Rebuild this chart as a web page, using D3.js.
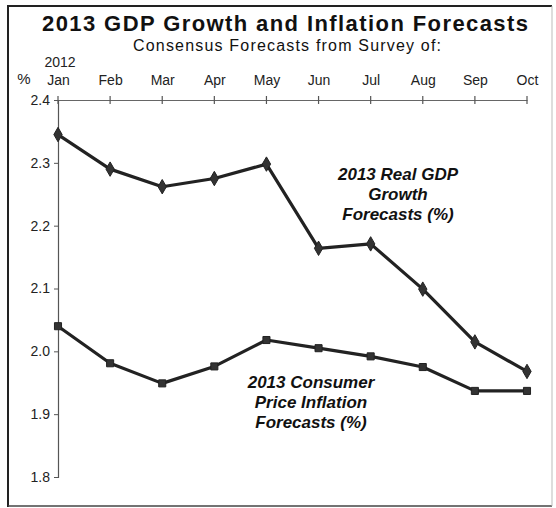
<!DOCTYPE html>
<html>
<head>
<meta charset="utf-8">
<script src="https://cdn.jsdelivr.net/npm/d3@7"></script>
<style>
  body { margin: 0; background: #fff; }
  svg { display: block; font-family: "Liberation Sans", Arial, sans-serif; }
</style>
</head>
<body>
<svg id="chart" width="556" height="508"></svg>
<script>
const months = ['Jan', 'Feb', 'Mar', 'Apr', 'May', 'Jun', 'Jul', 'Aug', 'Sep', 'Oct'];
const gdpForecast = [2.345, 2.29, 2.262, 2.275, 2.298, 2.164, 2.171, 2.099, 2.015, 1.968];
const cpiForecast = [2.04, 1.981, 1.949, 1.976, 2.018, 2.005, 1.992, 1.975, 1.937, 1.937];
const yTicks = [1.8, 1.9, 2.0, 2.1, 2.2, 2.3, 2.4];

const svg = d3.select('#chart');
const ink = '#222';
const font = '"Liberation Sans", Arial, sans-serif';

// frame
svg.append('path')
  .attr('d', 'M8 507 L8 6 L552 6')
  .attr('fill', 'none').attr('stroke', ink).attr('stroke-width', 2);
svg.append('line')
  .attr('x1', 8).attr('x2', 552).attr('y1', 506).attr('y2', 506)
  .attr('stroke', '#444').attr('stroke-width', 1.5);
svg.append('line')
  .attr('x1', 552).attr('x2', 552).attr('y1', 6).attr('y2', 506)
  .attr('stroke', '#bbb').attr('stroke-width', 1);

// titles
svg.append('text')
  .attr('x', 285).attr('y', 31)
  .attr('text-anchor', 'middle')
  .attr('font-size', 22).attr('font-weight', 'bold').attr('fill', '#111')
  .attr('textLength', 486).attr('lengthAdjust', 'spacing')
  .text('2013 GDP Growth and Inflation Forecasts');
svg.append('text')
  .attr('x', 287).attr('y', 51)
  .attr('text-anchor', 'middle')
  .attr('font-size', 16).attr('fill', '#111')
  .attr('textLength', 308).attr('lengthAdjust', 'spacing')
  .text('Consensus Forecasts from Survey of:');

const x = d3.scalePoint().domain(months).range([58, 527]);
const y = d3.scaleLinear().domain([1.8, 2.4]).range([477, 100]);

// top month axis
const monthAxis = svg.append('g').attr('transform', `translate(0,${y(2.4)})`);
monthAxis.call(d3.axisTop(x).tickSize(0).tickPadding(15))
  .call(g => g.select('.domain').attr('stroke', '#666').attr('stroke-width', 1.2))
  .call(g => g.selectAll('text').attr('font-size', 14).attr('fill', ink)
    .attr('font-family', font));
monthAxis.selectAll('.mtick').data(months).join('line')
  .attr('class', 'mtick')
  .attr('x1', d => x(d)).attr('x2', d => x(d))
  .attr('y1', -4).attr('y2', 4)
  .attr('stroke', '#555').attr('stroke-width', 1.2);

svg.append('text')
  .attr('x', x('Jan') + 2).attr('y', 67)
  .attr('text-anchor', 'middle')
  .attr('font-size', 14).attr('fill', ink)
  .text('2012');
svg.append('text')
  .attr('x', 24).attr('y', 84)
  .attr('text-anchor', 'middle')
  .attr('font-size', 15).attr('fill', ink)
  .text('%');

// left value axis
svg.append('g').attr('transform', `translate(${x('Jan')},0)`)
  .call(d3.axisLeft(y).tickValues(yTicks).tickFormat(d3.format('.1f')).tickSize(4).tickPadding(4))
  .call(g => g.select('.domain').attr('stroke', '#555').attr('stroke-width', 1.2))
  .call(g => g.selectAll('.tick line').attr('stroke', '#555'))
  .call(g => g.selectAll('text').attr('font-size', 14).attr('fill', ink)
    .attr('font-family', font));

// series
const line = d3.line().x((d, i) => x(months[i])).y(d => y(d));

svg.append('path').datum(gdpForecast)
  .attr('d', line).attr('fill', 'none')
  .attr('stroke', ink).attr('stroke-width', 3.2).attr('stroke-linejoin', 'round');
svg.append('path').datum(cpiForecast)
  .attr('d', line).attr('fill', 'none')
  .attr('stroke', ink).attr('stroke-width', 3.2).attr('stroke-linejoin', 'round');

svg.selectAll('.gdp-pt').data(gdpForecast).join('path')
  .attr('class', 'gdp-pt')
  .attr('transform', (d, i) => `translate(${x(months[i])},${y(d)})`)
  .attr('d', d3.symbol(d3.symbolDiamond, 60))
  .attr('fill', '#333').attr('stroke', ink).attr('stroke-width', 1);

svg.selectAll('.cpi-pt').data(cpiForecast).join('path')
  .attr('class', 'cpi-pt')
  .attr('transform', (d, i) => `translate(${x(months[i])},${y(d)})`)
  .attr('d', d3.symbol(d3.symbolSquare, 50))
  .attr('fill', '#333').attr('stroke', ink).attr('stroke-width', 1);

// annotations
function note(cx, cy, lines) {
  const t = svg.append('text')
    .attr('text-anchor', 'middle')
    .attr('font-size', 17).attr('font-weight', 'bold').attr('font-style', 'italic')
    .attr('fill', '#111');
  lines.forEach((s, i) => {
    t.append('tspan').attr('x', cx).attr('y', cy + i * 20).text(s);
  });
}
note(398, 180, ['2013 Real GDP', 'Growth', 'Forecasts  (%)']);
note(311, 388, ['2013  Consumer', 'Price  Inflation', 'Forecasts  (%)']);
</script>
</body>
</html>
